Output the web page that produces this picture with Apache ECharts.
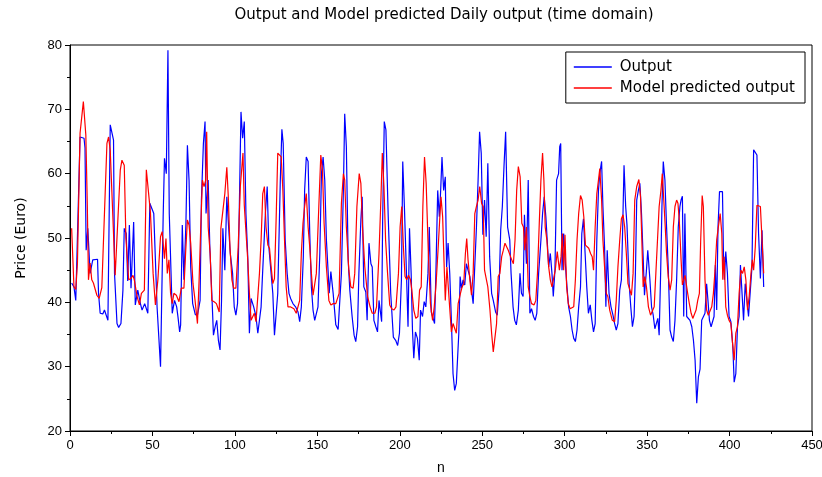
<!DOCTYPE html>
<html>
<head>
<meta charset="utf-8">
<script src="https://cdn.jsdelivr.net/npm/echarts@6/dist/echarts.min.js"></script>
<style>
  html, body { margin: 0; padding: 0; background: #fff; }
  #chart { width: 822px; height: 477px; }
</style>
</head>
<body>
<div id="chart"></div>
<script>
// Output series (at its turning points)
var outN = [1,2.4,3.5,6.1,8.5,9.1,9.8,10.8,12.2,13.8,16.7,17.3,18.3,19.9,20.9,23,24.4,26.4,27,28.5,29.5,30.9,32.1,32.9,34.1,35,36,37,38.6,39.6,41.1,42.7,43.7,45.3,45.9,47.2,48.4,50.8,52.8,
  54.9,56.5,57.3,58.4,59.4,60.2,61,62,63.4,64.7,65.5,66.5,67.1,68.1,69.1,70.3,71.2,72.2,73.2,74.4,76,77.3,78.9,79.7,80.9,81.9,82.5,83.8,84.8,86,87,88,89,90,91,91.9,92.7,93.9,95.1,96.2,97.2,98.6,99.6,100.6,101.6,102.7,103.7,104.7,
  105.7,106.7,107.8,108.8,109.8,111.4,112.8,113.9,114.9,115.9,116.7,117.5,118.5,119.6,120.6,121.6,123,124,125,126,127.5,128.5,129.3,130.5,131.7,132.8,133.8,135.2,136.8,138.3,139.3,140.3,141.5,142.3,143.3,144.4,145.4,146.4,147.4,148.4,149.4,150.4,151.5,152.5,153.5,154.5,155.5,156.5,157.2,158.2,159.6,161.2,162.6,163.6,164.6,165.8,
  166.6,167.6,168.7,169.7,171.1,172.3,173.3,174.4,175.2,176.4,177.2,178.2,179.4,180.2,181.3,182.5,183.3,184.3,185.5,186.5,187.4,188.4,189,189.6,190.6,191.6,193,194.5,196.1,197.5,198.7,199.8,201,201.8,202.8,204,205,205.9,206.9,207.7,208.5,209.5,210.7,211.8,212.6,213.8,214.8,215.8,217.1,217.9,219.1,220.1,221.1,221.9,223,224,224.8,225.6,226.6,227.6,228.4,229.3,230.3,231.3,232.3,233.3,234.3,235.8,236.6,237.4,238.4,239.4,240.4,241.4,242.5,243.5,244.5,245.5,246.5,247.5,248.4,249.4,250.4,251.4,252.4,253.4,254.5,255.7,256.7,258.1,259.1,260.2,261.2,262.2,263.2,264.2,265.4,266.7,267.5,268.7,269.7,270.7,271.9,272.9,273.8,274.8,275.6,276.8,277.9,278.9,279.9,281.1,282.1,283.1,284.2,285.6,286.6,287.6,288.6,289.4,290.3,291.3,292.3,293.1,294.1,295.1,296.3,297,297.6,298.4,299.4,300.4,301.4,302.4,303.5,304.5,305.5,306.5,307.5,308.5,309.6,310.4,311.4,312.4,313.4,314.4,315.5,316.5,317.5,318.5,319.5,320.5,321.3,322.4,323.2,324.2,325,325.8,
  326.9,328.1,329.3,330.3,331.3,332.3,333.4,334.4,335.2,336,337,337.8,339.1,340.1,341.1,342.1,342.9,343.7,344.7,345.6,346.6,347.6,348.4,349.6,350.4,351.7,352.7,353.7,354.7,355.7,356.5,357.3,358.2,359,359.8,360.8,361.8,362.8,363.9,364.9,365.9,366.9,367.9,368.9,369.9,370.6,371.4,372.2,372.9,374,375,376,377.1,378.1,379.1,380.1,381.1,382.1,383.1,384.1,385.1,386.1,386.9,387.8,388.8,389.8,390.6,391.4,392.2,393,393.9,394.9,395.7,396.3,396.9,397.7,398.7,399.7,400.8,402,402.8,403.8,404.8,405.8,406.6,407.5,408.5,409.5,410.5,411.5,412.6,413.6,414.6,415.6,416.6,417.6,418.7,419.7,420.7];
var outV = [43,42.4,40.3,65.7,65.5,64,48.1,51.5,44.5,46.6,46.7,41.4,38.3,38.2,38.8,37.2,67.6,65.2,44.5,36.7,36.1,36.7,41.9,51.5,50.7,43.3,52,42.2,52.5,39.6,41.9,39.8,38.8,39.8,39.6,38.3,55.4,53.8,39.3,30,
  53.3,62.4,60,79.2,53.8,54.1,38.3,40.3,39.3,37.7,35.4,36.5,52,43.5,52.3,64.4,59,45.5,39.8,38.1,38,40.3,55.9,64.7,68.1,53.8,59,48.6,41.4,34.9,36.2,37.2,34.1,32.6,40.3,51.5,45,56.4,51.7,47.6,44.5,39.3,38,39.8,54.9,69.6,65.5,68.1,
  53.8,47.1,35.2,40.6,39.3,37.8,35.2,34.9,39.3,44,44.2,53.8,58,48.6,48.4,41.4,34.9,35.2,41.4,58.5,66.9,64.7,49.7,44.5,41.4,40.6,39.8,39.3,38.5,37,39.3,47.1,57.4,62.6,61.9,50.7,42.4,38.8,37.2,37.5,39.3,47.6,60,62.6,59,49.7,45,41.4,44.8,41.4,36.5,35.8,35.9,44.5,57.4,69.3,
  64.2,46.6,41.9,37.8,34.9,33.9,36.2,44.5,52.8,56.4,42.4,41.6,37.2,49.2,46,45.5,37.2,36.2,35.4,40.3,40.6,37,52.5,68.1,66.8,53.3,41.4,34.6,34.1,33.3,35.2,43.5,61.9,54.9,45,36.2,51.5,44.5,35.7,31.3,35.4,34.4,31,38.8,37.8,40.1,39.3,44.5,51.7,38.5,38.3,36.7,44.5,57.4,53.3,57.4,62.6,57.4,59.5,45.5,49.2,44.5,37.2,28.9,26.3,27.4,35.2,44,42.2,43.5,42.7,46,45,44,43.7,39.8,39.6,51.7,59,66.5,63.2,50.5,55.9,50.2,61.6,47.1,41.4,40.3,38.5,38,41.9,51.2,54.9,61.1,66.5,51.7,49.7,44.5,39.3,37.2,36.5,38.8,44.5,41.4,40.9,53.6,46,59,38.3,39,37.8,37.2,38.3,44.5,49.7,53.8,56.4,53.3,49.7,45.5,47.6,44.5,40.9,45,59,60,64.2,64.7,45,50.7,46,42.4,39.3,37.8,35.7,34.4,33.9,35.7,39.3,42.4,50.7,53,47.6,42.4,38.3,39.6,37.2,35.4,36.7,49.7,57.4,60,61.9,54.9,48.6,39.3,48.1,41.4,
  39.3,38,36.7,35.7,36.7,41.9,43.5,51.7,61.3,54.9,52,42.9,39.3,36.2,37.8,44.5,55.9,57.4,58.5,53.8,47.1,41.1,45,48.1,43.5,39.3,38,35.9,35.7,37.5,34.9,44.5,54.9,61.9,59,51.7,45.5,35.7,34.6,33.9,37.2,43.5,51.7,54.9,55.9,56.5,37.8,53.8,37.8,37.8,37.2,36.2,34.1,31,24.3,28.4,29.6,37.2,37.2,38.3,42.9,40.3,37.2,36.2,36.2,37.8,45.8,38.8,51.7,57.2,57.4,57.2,47.6,43.5,47.9,44.5,37.8,37,33.1,27.6,28.9,36.2,37.8,45.8,45.8,37.2,42.9,42.7,37.8,37.8,45.5,63.7,63.4,62.9,50.7,43.7,51.2,42.4,42.3];

// Model predicted output series
var predN = [1,2.4,3.5,4.5,6.1,8.1,9.6,10.5,11.2,12.2,13.2,14.2,16.3,17.7,19.3,22.4,23.4,24.4,27.4,28,30.5,31.5,32.9,33.9,35.6,37,38.2,39,40.7,42.1,43.3,44.1,45.1,46.3,47.4,48.8,50.4,51.8,52.8,
  53.3,54.9,55.9,56.5,57.3,58.2,59,60,61,62,63,64.5,66.1,67.5,69.1,70.1,71.2,72.2,73.2,74.6,75.8,77.3,78.3,79.3,80.3,81.3,82.3,82.9,83.8,85,86,87.4,88.8,90.5,91.5,92.7,93.9,95.1,96,97,98.2,99.2,100.6,102,103.3,104.9,
  105.7,106.7,107.8,108.8,109.8,110.8,111.8,112.8,113.9,114.9,115.9,116.9,117.9,118.9,120,121,122,123,124,125,126,127.1,128.1,129.1,130.1,131.1,132.2,133.6,134.6,135.8,137.2,138.3,139.3,140.3,141.3,142.3,143.3,144.4,145.4,146.4,147.4,148.4,149.4,150.9,152.1,153.1,154.1,155.5,157,158.2,159.6,161.2,162.2,163.2,
  164.6,165.8,166.6,167.6,169.1,170.3,171.7,172.7,174,175.4,176.4,177.4,178.8,180.5,182,183.3,184.9,185.9,187.4,188.6,189.4,190.4,191.4,192.6,193.9,195.1,196.5,197.7,199.2,200.2,201.2,202.2,203.2,204.2,205.3,206.5,207.3,208.5,209.7,211,212,213,214,215,216,217.4,218.6,219.9,220.9,221.9,223.2,224.2,225,226,226.8,227.6,228.6,230.1,231.3,232.3,233.3,234.3,235.4,236.8,237.8,238.8,239.8,240.6,241.4,242.5,243.5,244.5,245.5,246.5,247.5,248.5,249.6,250.6,251.4,252.4,253.4,254.7,255.7,256.7,257.7,258.7,259.7,260.7,261.8,262.8,263.8,264.8,265.8,266.9,267.9,268.9,269.9,270.9,271.9,273,274,275,275.8,276.8,277.9,278.9,279.9,281.5,282.5,283.5,284.6,285.6,286.6,287.4,288.2,289.2,290.3,291.3,292.3,293.3,294.3,295.5,296.8,297.8,298.6,299.4,300.2,301.2,302.2,303.3,304.5,305.5,306.5,307.5,308.5,309.6,310.6,311.6,312.6,313.6,314.6,315.7,316.7,317.5,318.5,319.5,320.5,321.3,322.4,323.2,324.2,325.2,326.2,327.3,
  328.9,330.3,331.3,332.3,333.4,334.4,335.4,336.4,337.4,338.4,339.5,340.5,341.5,342.5,343.7,345,346,346.8,347.6,348.6,349.6,350.8,352.1,353.3,354.3,355.3,356.3,357.3,358.4,359.2,360,361,361.8,362.8,363.9,364.9,365.9,366.9,367.9,368.7,369.5,370.6,371.4,373,374.6,375.6,376.7,377.7,378.7,379.7,380.7,381.7,382.5,383.4,384.1,385.1,386.1,387.1,388.1,389.2,390.2,391.2,392.2,393.2,394.3,395.3,395.9,396.7,397.7,398.7,399.7,400.8,402,402.8,403.8,404.8,405.8,406.9,407.9,408.9,409.9,410.9,411.9,413,413.8,414.6,415.6,416.6,417.6,418.7,419.7,420.7];
var predV = [51.5,42.4,42,46,66.3,71.2,66,55,43.5,46.1,43.5,43,41.1,40.6,42.3,64.7,65.7,63.6,44.2,44,60.6,62.1,61.3,50,43.5,43.7,44.2,43.5,40.9,39.6,41.4,41.6,41.9,60.6,60.8,53.9,44.5,39.6,39.8,
  43.5,50.2,51,51.2,46.8,49.9,44.5,46.6,41.4,39.8,41.4,41.1,40.1,42.2,42.2,47.6,52.8,52,49.2,42.9,40.4,36.7,43.5,51.7,59,58,59,66.5,51.7,47.6,40.3,40.1,39.8,38.5,51.5,51.5,56.9,61,56.4,48.6,43.5,42.2,42.2,48.6,58,63.2,
  55.1,54.9,46.6,41.4,37.2,37.5,38.3,37,36.7,44.5,49.7,56.9,58,51.7,48.9,48.4,45.5,42.9,43.7,52.8,63.2,62.9,62.6,57.4,49.7,42.4,39.3,39.3,39.6,39,38.3,38,40.3,47.6,52.3,54.9,56.9,51.7,48.6,44.5,41.1,40.9,44.5,54.9,62.9,60.6,52.3,45.5,40.3,39.6,39.8,39.8,39.6,41.4,
  55.4,60,59,51.7,45,42.4,42.2,44.5,54.9,60,58.5,51.7,45.5,40.9,39.3,38.3,38.3,39.3,47.6,56.4,63.2,58,49.7,44.5,39.6,39,38.8,39.3,44.5,51.7,54.9,48.6,44,43.5,44.2,43.5,41.9,38.8,37.5,37.8,41.9,42.4,54.9,62.6,58.5,47.1,39.8,37.2,39.3,42.4,48.1,52.8,56.4,53.3,46.6,40.3,45.5,39.8,35.4,36.7,36.7,35.2,39.8,41.4,42.4,42.9,47.6,49.9,46.6,43.5,41.1,44.5,53.8,54.9,55.9,58,55.4,54.9,45,45,42.4,38.8,35.2,32.3,32,36.7,44,44.5,47.1,48.1,49.2,49.2,48.1,47.3,46.6,46,49.7,57.4,61.1,59.5,52.3,51.7,48.1,51.7,42.4,40.9,39.8,39.6,40.3,44.5,52.3,59,63.2,59,51.7,49.7,45.5,43.5,42.4,42.2,45,47.9,45,47.1,50.7,45,50.5,42.4,39.8,39,39,39.3,43.5,49.7,53.8,56.6,55.9,53.3,48.9,48.6,48.4,47.6,47.1,45,51.7,56.9,59,60.8,55.9,49.7,45.5,41.4,40.9,38.8,
  37.2,37,40.3,45.5,49.7,53,53.6,51.7,47.6,42.9,42.7,41.1,44.5,55.9,58,59.1,56.4,49.7,42.4,44,42.4,39.3,38,38,39.3,44.5,49.7,54.9,57.4,60,56.4,51.7,47.6,44,41.9,43.5,51.7,54.9,55.9,55.4,52.8,46.6,42.7,44.2,41.4,39.8,38.3,37.5,37.5,38.8,40.3,41.4,49.7,56.6,54.9,43.5,38.8,38,38,39.3,41.4,45,49.7,51.7,53.8,50.7,43.5,47.1,39.3,38,37.2,36.7,33.1,31,35.2,36.2,41.4,45,44.5,45.5,43.5,38.8,40.9,44.5,46.6,45,48.6,55.1,55.4,54.9,49.7,44.5];

var xTicks = { min: 0, max: 450, step: 50 };
var yTicks = { min: 20, max: 80, step: 10 };

function pairs(ns, vs) {
  var d = [];
  for (var i = 0; i < ns.length; i++) d.push([ns[i], vs[i]]);
  return d;
}

var chart = echarts.init(document.getElementById('chart'), null, { renderer: 'canvas' });

var labelFont = 'Liberation Sans';

var option = {
  animation: false,
  backgroundColor: '#fff',
  title: {
    text: 'Output and Model predicted Daily output (time domain)',
    left: 439,
    textAlign: 'center',
    top: 3,
    textStyle: { fontFamily: 'DejaVu Sans', fontSize: 15, fontWeight: 'normal', color: '#000' }
  },
  grid: {
    left: 70, right: 10, top: 45, bottom: 46,
    outerBoundsMode: 'none',
    show: true, borderColor: '#000', borderWidth: 1, backgroundColor: 'transparent'
  },
  legend: {
    orient: 'vertical',
    right: 17, top: 52,
    padding: [7, 10, 7, 8],
    itemGap: 5,
    icon: 'rect',
    itemWidth: 38, itemHeight: 1.5,
    borderColor: '#000', borderWidth: 1,
    backgroundColor: '#fff',
    textStyle: { fontFamily: 'DejaVu Sans', fontSize: 15, color: '#000', padding: [0, 0, 0, 3], lineHeight: 16 },
    data: ['Output', 'Model predicted output']
  },
  xAxis: {
    type: 'value',
    min: xTicks.min, max: xTicks.max, interval: xTicks.step,
    name: 'n', nameLocation: 'middle', nameGap: 30,
    nameTextStyle: { fontFamily: labelFont, fontSize: 14, color: '#000' },
    axisLine: { onZero: false, lineStyle: { color: '#000', width: 1 } },
    axisTick: { inside: false, length: 5, lineStyle: { color: '#000' } },
    minorTick: { show: true, splitNumber: 2, length: 3, lineStyle: { color: '#000' } },
    axisLabel: { fontFamily: labelFont, fontSize: 13, color: '#000', margin: 8 },
    splitLine: { show: false }
  },
  yAxis: {
    type: 'value',
    min: yTicks.min, max: yTicks.max, interval: yTicks.step,
    name: 'Price (Euro)', nameLocation: 'middle', nameGap: 42,
    nameTextStyle: { fontFamily: 'DejaVu Sans', fontSize: 14, color: '#000' },
    axisLine: { onZero: false, lineStyle: { color: '#000', width: 1 } },
    axisTick: { inside: false, length: 5, lineStyle: { color: '#000' } },
    minorTick: { show: true, splitNumber: 2, length: 3, lineStyle: { color: '#000' } },
    axisLabel: { fontFamily: labelFont, fontSize: 13, color: '#000', margin: 8 },
    splitLine: { show: false }
  },
  series: [
    {
      name: 'Output',
      type: 'line',
      symbol: 'none',
      data: pairs(outN, outV),
      lineStyle: { color: '#0000ff', width: 1.2 },
      itemStyle: { color: '#0000ff' },
      z: 2
    },
    {
      name: 'Model predicted output',
      type: 'line',
      symbol: 'none',
      data: pairs(predN, predV),
      lineStyle: { color: '#ff0000', width: 1.2 },
      itemStyle: { color: '#ff0000' },
      z: 3
    }
  ]
};

chart.setOption(option);
</script>
</body>
</html>
